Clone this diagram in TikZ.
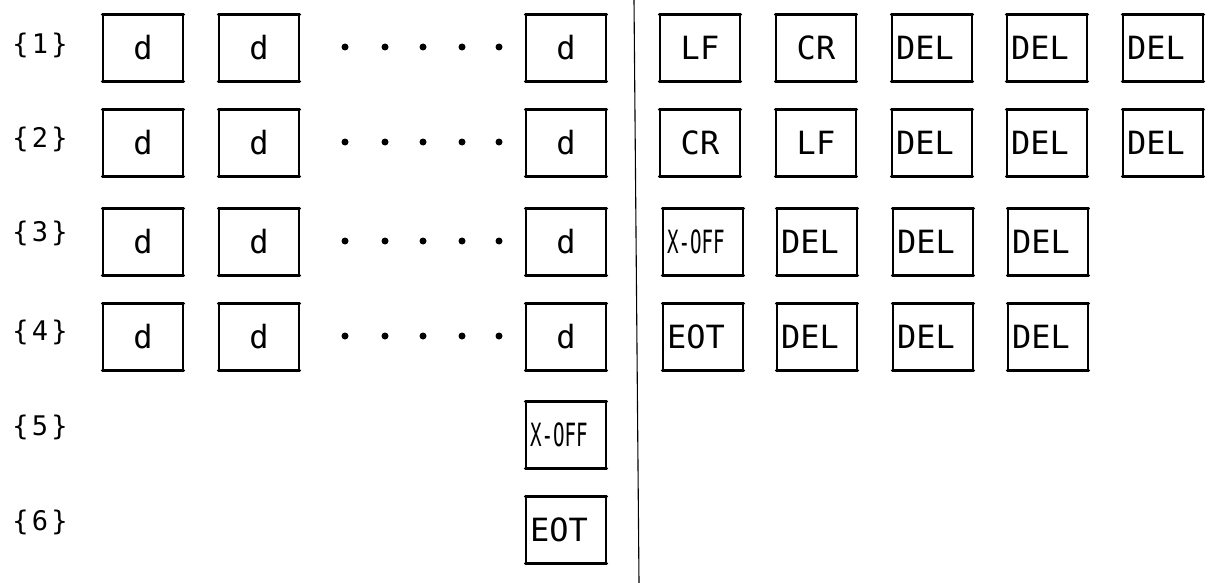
\documentclass[tikz,border=0pt]{standalone}
\usepackage{fontspec}
\newfontfamily\plotfont{DejaVu Sans Mono}
\newfontfamily\lblfont[LetterSpace=12]{DejaVu Sans Mono}
\begin{document}
\begin{tikzpicture}[x=1pt,y=-1pt,
  bx/.style={draw, line width=1.1pt, minimum width=80pt, minimum height=66pt, inner sep=4pt,
    font=\plotfont\fontsize{32}{32}\selectfont},
  bxl/.style={bx, text width=72pt, align=left},
  lbl/.style={font=\lblfont\fontsize{27}{27}\selectfont},
  dot/.style={circle, fill, inner sep=0pt, minimum size=7pt},
  edgeline/.style={line width=3pt, line cap=round}]
\useasboundingbox (0,0) rectangle (1209,583);
\newcommand{\xoff}{\scalebox{0.6}[1]{X-OFF}}
% row labels
\foreach \i/\y in {1/45,2/139,3/233,4/332,5/427,6/522}
  \node[lbl] (l\i) at (40,\y) {\{\i\}};
% left boxes
\foreach \r/\y in {1/48,2/143,3/242,4/337}{
  \node[bx] (a\r) at (143,\y) {d};
  \node[bx] (b\r) at (259,\y) {d};
  \node[bx] (n\r) at (566,\y) {d};
  \foreach \k/\x in {1/345,2/385,3/423,4/462,5/499}
    \node[dot] (p\r\k) at (\x,\y-1) {};
}
\node[bxl] (n5) at (566,435) {\xoff};
\node[bxl] (n6) at (566,530) {EOT};
% divider
\coordinate (t) at (634,0);
\coordinate (u) at (639,583);
\draw[line width=1.1pt] (t) -- (u);
% right boxes
\node[bx] (r11) at (700,48) {LF};
\node[bx] (r12) at (816,48) {CR};
\node[bxl] (r13) at (932,48) {DEL};
\node[bxl] (r14) at (1047,48) {DEL};
\node[bxl] (r15) at (1163,48) {DEL};
\node[bx] (r21) at (700,143) {CR};
\node[bx] (r22) at (816,143) {LF};
\node[bxl] (r23) at (932,143) {DEL};
\node[bxl] (r24) at (1047,143) {DEL};
\node[bxl] (r25) at (1163,143) {DEL};
\node[bxl] (r31) at (703,242) {\xoff};
\node[bxl] (r32) at (817,242) {DEL};
\node[bxl] (r33) at (933,242) {DEL};
\node[bxl] (r34) at (1048,242) {DEL};
\node[bxl] (r41) at (703,337) {EOT};
\node[bxl] (r42) at (817,337) {DEL};
\node[bxl] (r43) at (933,337) {DEL};
\node[bxl] (r44) at (1048,337) {DEL};
% thick top and bottom edges
\foreach \n in {a1,b1,n1,a2,b2,n2,a3,b3,n3,a4,b4,n4,n5,n6,
  r11,r12,r13,r14,r15,r21,r22,r23,r24,r25,r31,r32,r33,r34,r41,r42,r43,r44}{
  \draw[edgeline] (\n.north west) -- (\n.north east);
  \draw[edgeline] (\n.south west) -- (\n.south east);
}
\end{tikzpicture}
\end{document}
